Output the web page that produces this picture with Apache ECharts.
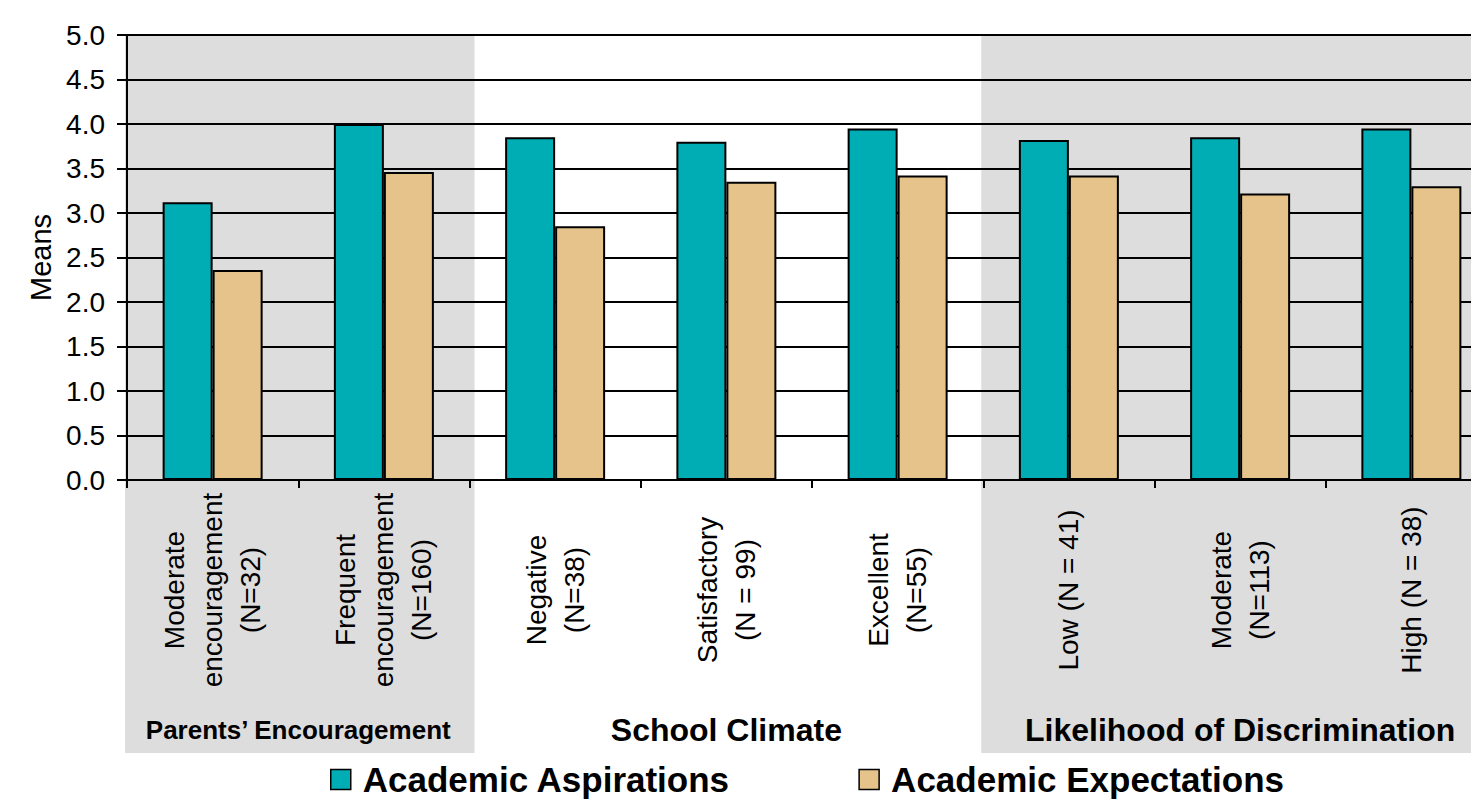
<!DOCTYPE html>
<html>
<head>
<meta charset="utf-8">
<title>Academic Aspirations and Expectations</title>
<script src="https://cdn.jsdelivr.net/npm/echarts@6/dist/echarts.min.js"></script>
<style>
  html, body { margin: 0; padding: 0; background: #ffffff; }
  #chart { width: 1471px; height: 799px; }
</style>
</head>
<body>
<div id="chart"></div>
<script>
// Category labels (line breaks split the rotated label into centred lines)
const categories = [
  'Moderate\nencouragement\n(N=32)',
  'Frequent\nencouragement\n(N=160)',
  'Negative\n(N=38)',
  'Satisfactory\n(N = 99)',
  'Excellent\n(N=55)',
  'Low (N = 41)',
  'Moderate\n(N=113)',
  'High (N = 38)'
];

// Mean scores per category
const aspirations = [3.12, 4.00, 3.85, 3.80, 3.95, 3.82, 3.85, 3.95];
const expectations = [2.36, 3.46, 2.85, 3.35, 3.42, 3.42, 3.22, 3.30];

const seriesNames = ['Academic Aspirations', 'Academic Expectations'];

// Category groups: label, first and last category index, shaded or not
const groupNames = ['Parents\u2019 Encouragement', 'School Climate', 'Likelihood of Discrimination'];
const groupStart = [0, 2, 5];
const groupEnd = [1, 4, 7];
const groupShaded = [true, false, true];
const groupFontSize = [26, 32, 32];

const FONT = '"Liberation Sans", Arial, Helvetica, sans-serif';
const TEAL = '#00ADB4';
const TAN = '#E5C38B';
const BAND = '#DDDDDD';

const chart = echarts.init(document.getElementById('chart'), null, { renderer: 'svg' });

const option = {
  backgroundColor: '#ffffff',
  animation: false,
  grid: {
    left: 127, top: 35, width: 1370, height: 445,
    containLabel: false,
    outerBoundsMode: 'none'
  },
  legend: {
    data: seriesNames,
    left: 330,
    top: 762,
    padding: 0,
    itemWidth: 20,
    itemHeight: 20,
    itemGap: 128,
    icon: 'rect',
    itemStyle: { borderColor: '#000', borderWidth: 1.5 },
    textStyle: {
      fontFamily: FONT, fontSize: 35, fontWeight: 'bold', color: '#000',
      lineHeight: 30,
      padding: [0, 0, 0, 7]
    }
  },
  xAxis: {
    type: 'category',
    data: categories,
    axisLine: { lineStyle: { color: '#000', width: 2 } },
    axisTick: { show: true, length: 8, lineStyle: { color: '#000', width: 2 } },
    splitLine: { show: false },
    axisLabel: {
      interval: 0,
      rotate: 90,
      align: 'center',
      verticalAlign: 'middle',
      margin: 110,
      formatter: function (v) {
        return v.split('\n').map(function (s) { return '{c|' + s + '}'; }).join('\n');
      },
      rich: {
        c: { align: 'center', fontFamily: FONT, fontSize: 28, lineHeight: 38, color: '#000' }
      }
    }
  },
  yAxis: {
    type: 'value',
    min: 0,
    max: 5,
    interval: 0.5,
    name: 'Means',
    nameLocation: 'middle',
    nameRotate: 90,
    nameGap: 72,
    nameTextStyle: { fontFamily: FONT, fontSize: 29, color: '#000' },
    axisLine: { show: true, lineStyle: { color: '#000', width: 2 } },
    axisTick: { show: true, length: 10, lineStyle: { color: '#000', width: 2 } },
    splitLine: { show: true, lineStyle: { color: '#000', width: 2 } },
    axisLabel: {
      margin: 22,
      fontFamily: FONT, fontSize: 28, color: '#000',
      formatter: function (v) { return v.toFixed(1); }
    }
  },
  series: [
    {
      name: seriesNames[0],
      type: 'bar',
      data: aspirations,
      barWidth: 50,
      barGap: '0%',
      itemStyle: { color: TEAL, borderColor: '#000', borderWidth: 2 }
    },
    {
      name: seriesNames[1],
      type: 'bar',
      data: expectations,
      barWidth: 50,
      barGap: '0%',
      itemStyle: { color: TAN, borderColor: '#000', borderWidth: 2 }
    }
  ]
};

chart.setOption(option);

// Group bands and group titles, placed from the category axis scale
const c0 = chart.convertToPixel({ xAxisIndex: 0 }, 0);
const c1 = chart.convertToPixel({ xAxisIndex: 0 }, 1);
const step = c1 - c0;
const bandTop = chart.convertToPixel({ yAxisIndex: 0 }, 5);
const bandBottom = 753;
const titleY = 730;

const graphics = [];
groupNames.forEach(function (name, g) {
  const left = chart.convertToPixel({ xAxisIndex: 0 }, groupStart[g]) - step / 2;
  const right = chart.convertToPixel({ xAxisIndex: 0 }, groupEnd[g]) + step / 2;
  if (groupShaded[g]) {
    graphics.push({
      type: 'rect',
      silent: true,
      z: -10,
      shape: { x: left - 2, y: bandTop, width: right - left + 7, height: bandBottom - bandTop },
      style: { fill: BAND }
    });
  }
  graphics.push({
    type: 'text',
    silent: true,
    z: 10,
    x: (left + right) / 2,
    y: titleY,
    style: {
      text: name,
      fill: '#000',
      font: 'bold ' + groupFontSize[g] + 'px ' + FONT,
      align: 'center',
      verticalAlign: 'middle',
      textAlign: 'center',
      textVerticalAlign: 'middle'
    }
  });
});

chart.setOption({ graphic: graphics });
</script>
</body>
</html>
